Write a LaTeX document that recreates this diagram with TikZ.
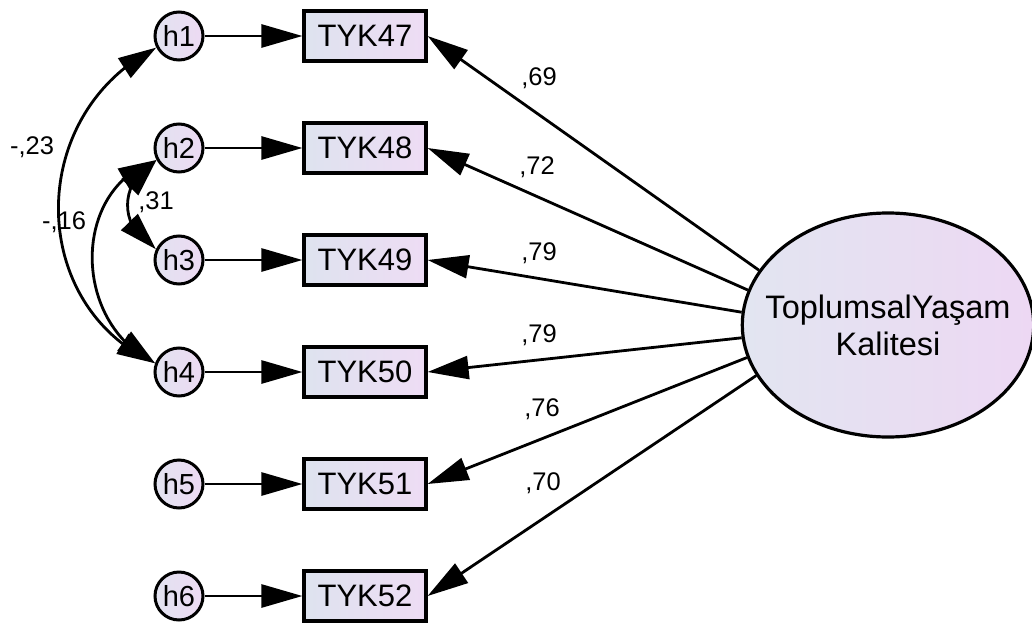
\documentclass[tikz,border=0pt]{standalone}
\usepackage{fontspec}
\setmainfont{Liberation Sans}
\usetikzlibrary{arrows.meta,shapes.geometric,bending}
\definecolor{bxA}{HTML}{DEE3EF}
\definecolor{bxB}{HTML}{EEDCF4}
\definecolor{ciA}{HTML}{E2E3F0}
\definecolor{ciB}{HTML}{EDDAF3}
\definecolor{elA}{HTML}{E2E5F1}
\definecolor{elB}{HTML}{EDD8F3}
\begin{document}
\begin{tikzpicture}[x=1pt,y=-1pt,
  obs/.style={draw, line width=3.2pt, minimum width=122pt, minimum height=50pt, inner sep=0pt, left color=bxA, right color=bxB, font=\fontsize{31}{37}\selectfont},
  err/.style={circle, draw, line width=3pt, minimum size=48pt, inner sep=0pt, left color=ciA, right color=ciB, font=\fontsize{29}{35}\selectfont},
  lat/.style={ellipse, draw, line width=3.2pt, inner xsep=-19.5pt, inner ysep=0pt, minimum height=224pt, left color=elA, right color=elB, align=center, font=\fontsize{32.5}{37}\selectfont},
  arr/.style={line width=2.8pt, -{Triangle[length=41pt,width=23pt]}},
  cov/.style={line width=2.8pt, {Triangle[length=38pt,width=23pt]}-{Triangle[length=38pt,width=23pt]}},
  lab/.style={font=\fontsize{25.5}{30}\selectfont, inner sep=0pt}
]
\useasboundingbox (0,0) rectangle (1032,626);
\fill[white] (0,0) rectangle (1032,626);

% error terms
\node[err] (h1) at (179,36) {h1};
\node[err] (h2) at (179,148) {h2};
\node[err] (h3) at (179,260) {h3};
\node[err] (h4) at (179,372) {h4};
\node[err] (h5) at (179,484) {h5};
\node[err] (h6) at (179,596) {h6};

% observed variables
\node[obs] (b47) at (365,36) {TYK47};
\node[obs] (b48) at (365,148) {TYK48};
\node[obs] (b49) at (365,260) {TYK49};
\node[obs] (b50) at (365,372) {TYK50};
\node[obs] (b51) at (365,484) {TYK51};
\node[obs] (b52) at (365,596) {TYK52};

% latent
\node[lat] (E) at (888,325) {ToplumsalYaşam\\Kalitesi};

% error -> item
\draw[arr] (h1) -- (b47);
\draw[arr] (h2) -- (b48);
\draw[arr] (h3) -- (b49);
\draw[arr] (h4) -- (b50);
\draw[arr] (h5) -- (b51);
\draw[arr] (h6) -- (b52);

% latent -> items
\draw[arr] (E.157) -- (b47.east);
\draw[arr] (E.166) -- (b48.east);
\draw[arr] (E.175) -- (b49.east);
\draw[arr] (E.185) -- (b50.east);
\draw[arr] (E.193) -- (b51.east);
\draw[arr] (E.201) -- (b52.east);

% covariances
\draw[cov] (h1.207) .. controls (26,114) and (26,304) .. (h4.160);
\draw[cov] (h2.208) .. controls (71,188) and (71,323) .. (h4.160);
\draw[cov] (h2.208) .. controls (118,182) and (118,228) .. (h3.155);

% labels
\node[lab] (l1) at (539,78) {,69};
\node[lab] (l2) at (537,167) {,72};
\node[lab] (l3) at (539,253) {,79};
\node[lab] (l4) at (539,335) {,79};
\node[lab] (l5) at (542,409) {,76};
\node[lab] (l6) at (543,483) {,70};
\node[lab] (c1) at (32,147) {-,23};
\node[lab] (c2) at (64,222) {-,16};
\node[lab] (c3) at (156,202) {,31};
\end{tikzpicture}
\end{document}
